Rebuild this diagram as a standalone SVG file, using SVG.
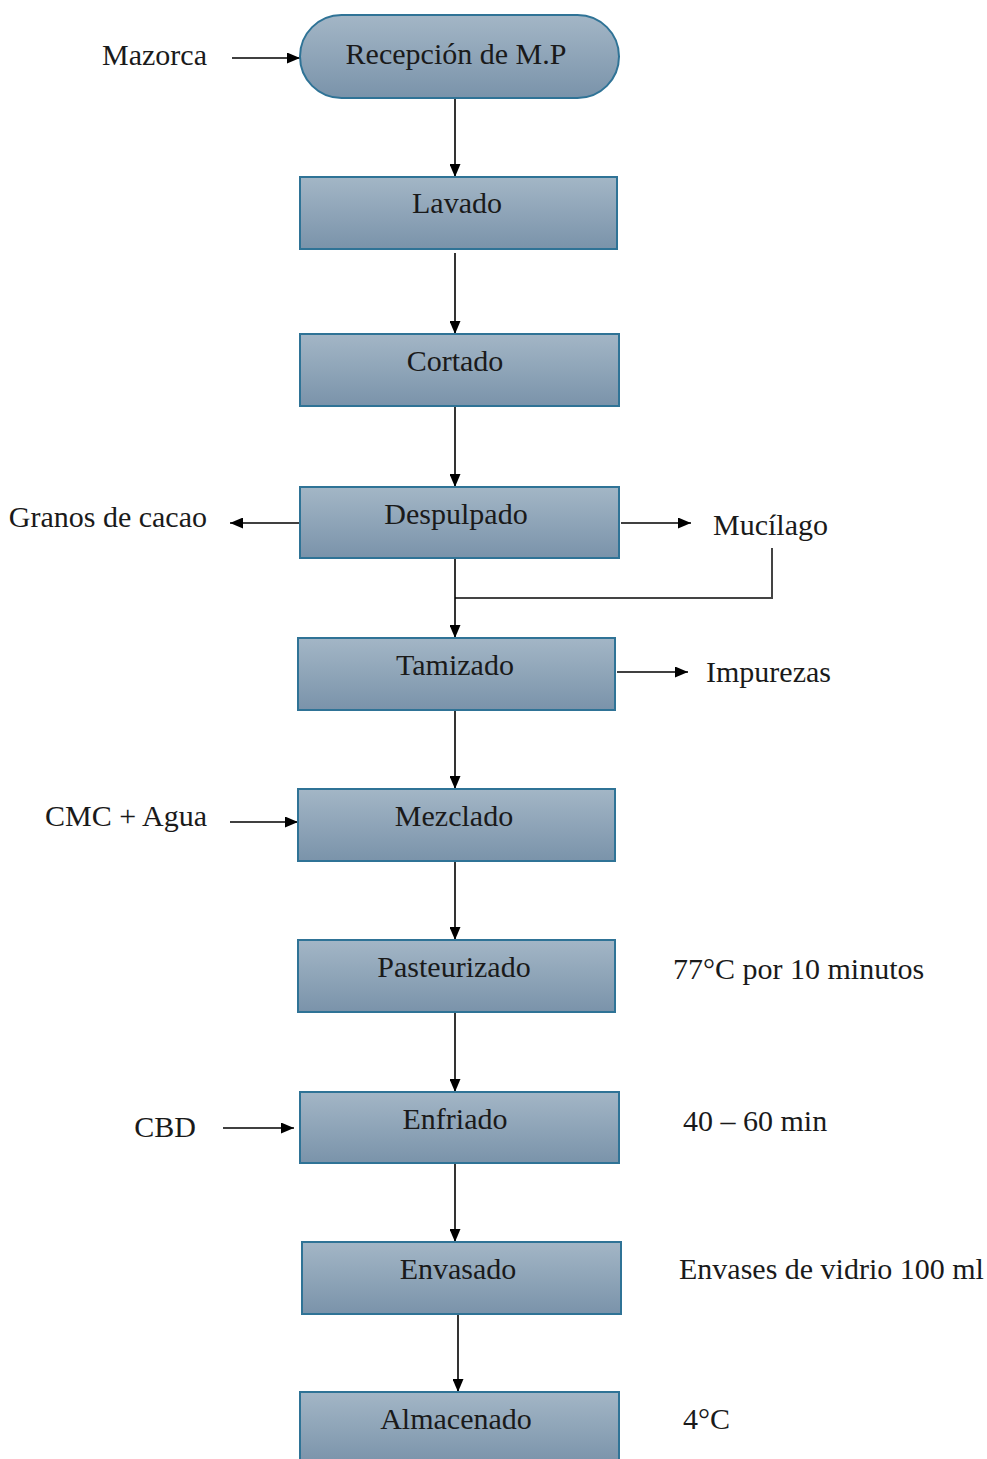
<svg xmlns="http://www.w3.org/2000/svg" width="987" height="1459" viewBox="0 0 987 1459">
<defs>
<linearGradient id="g" x1="0" y1="0" x2="0" y2="1">
<stop offset="0" stop-color="#a3b6c6"/>
<stop offset="1" stop-color="#7a93aa"/>
</linearGradient>
<marker id="ah" viewBox="0 0 13 11" refX="13" refY="5.5" markerWidth="13" markerHeight="11" markerUnits="userSpaceOnUse" orient="auto">
<path d="M0,0 L13,5.5 L0,11 Z" fill="#000"/>
</marker>
<style>
.box{fill:url(#g);stroke:#2f7396;stroke-width:2}
.t{font-family:'Liberation Serif','Times New Roman','DejaVu Serif',serif;font-size:30px;fill:#1a1a1a}
.c{text-anchor:middle}
.ln{fill:none;stroke:#000;stroke-width:1.6}
.ln2{fill:none;stroke:#444;stroke-width:2}
</style>
</defs>
<rect width="987" height="1459" fill="#fff"/>
<g id="connectors">
<path class="ln" d="M232,58 H300" marker-end="url(#ah)"/>
<path class="ln" d="M455,98 V177" marker-end="url(#ah)"/>
<path class="ln" d="M455,253 V334" marker-end="url(#ah)"/>
<path class="ln" d="M455,406 V487" marker-end="url(#ah)"/>
<path class="ln" d="M300,523 H230" marker-end="url(#ah)"/>
<path class="ln" d="M621,523 H691" marker-end="url(#ah)"/>
<path class="ln2" d="M772,548 V598 H455"/>
<path class="ln" d="M455,558 V638" marker-end="url(#ah)"/>
<path class="ln" d="M617,672 H688" marker-end="url(#ah)"/>
<path class="ln" d="M455,710 V789" marker-end="url(#ah)"/>
<path class="ln" d="M230,822 H298" marker-end="url(#ah)"/>
<path class="ln" d="M455,861 V940" marker-end="url(#ah)"/>
<path class="ln" d="M455,1012 V1092" marker-end="url(#ah)"/>
<path class="ln" d="M223,1128 H294" marker-end="url(#ah)"/>
<path class="ln" d="M455,1163 V1242" marker-end="url(#ah)"/>
<path class="ln" d="M458,1314 V1392" marker-end="url(#ah)"/>
</g>
<g id="n-recepcion"><rect class="box" x="300" y="15" width="319" height="83" rx="41.5"/><text class="t c" x="456" y="64">Recepción de M.P</text></g>
<g id="n-lavado"><rect class="box" x="300" y="177" width="317" height="72"/><text class="t c" x="457" y="213">Lavado</text></g>
<g id="n-cortado"><rect class="box" x="300" y="334" width="319" height="72"/><text class="t c" x="455" y="371">Cortado</text></g>
<g id="n-despulpado"><rect class="box" x="300" y="487" width="319" height="71"/><text class="t c" x="456" y="524">Despulpado</text></g>
<g id="n-tamizado"><rect class="box" x="298" y="638" width="317" height="72"/><text class="t c" x="455" y="675">Tamizado</text></g>
<g id="n-mezclado"><rect class="box" x="298" y="789" width="317" height="72"/><text class="t c" x="454" y="826">Mezclado</text></g>
<g id="n-pasteurizado"><rect class="box" x="298" y="940" width="317" height="72"/><text class="t c" x="454" y="977">Pasteurizado</text></g>
<g id="n-enfriado"><rect class="box" x="300" y="1092" width="319" height="71"/><text class="t c" x="455" y="1129">Enfriado</text></g>
<g id="n-envasado"><rect class="box" x="302" y="1242" width="319" height="72"/><text class="t c" x="458" y="1279">Envasado</text></g>
<g id="n-almacenado"><rect class="box" x="300" y="1392" width="319" height="72"/><text class="t c" x="456" y="1429">Almacenado</text></g>
<g id="labels">
<text class="t" x="207" y="65" text-anchor="end">Mazorca</text>
<text class="t" x="207" y="527" text-anchor="end">Granos de cacao</text>
<text class="t" x="713" y="535">Mucílago</text>
<text class="t" x="706" y="682">Impurezas</text>
<text class="t" x="207" y="826" text-anchor="end">CMC + Agua</text>
<text class="t" x="673" y="979">77°C por 10 minutos</text>
<text class="t" x="196" y="1137" text-anchor="end">CBD</text>
<text class="t" x="683" y="1131">40 – 60 min</text>
<text class="t" x="679" y="1279">Envases de vidrio 100 ml</text>
<text class="t" x="683" y="1429">4°C</text>
</g>
</svg>
